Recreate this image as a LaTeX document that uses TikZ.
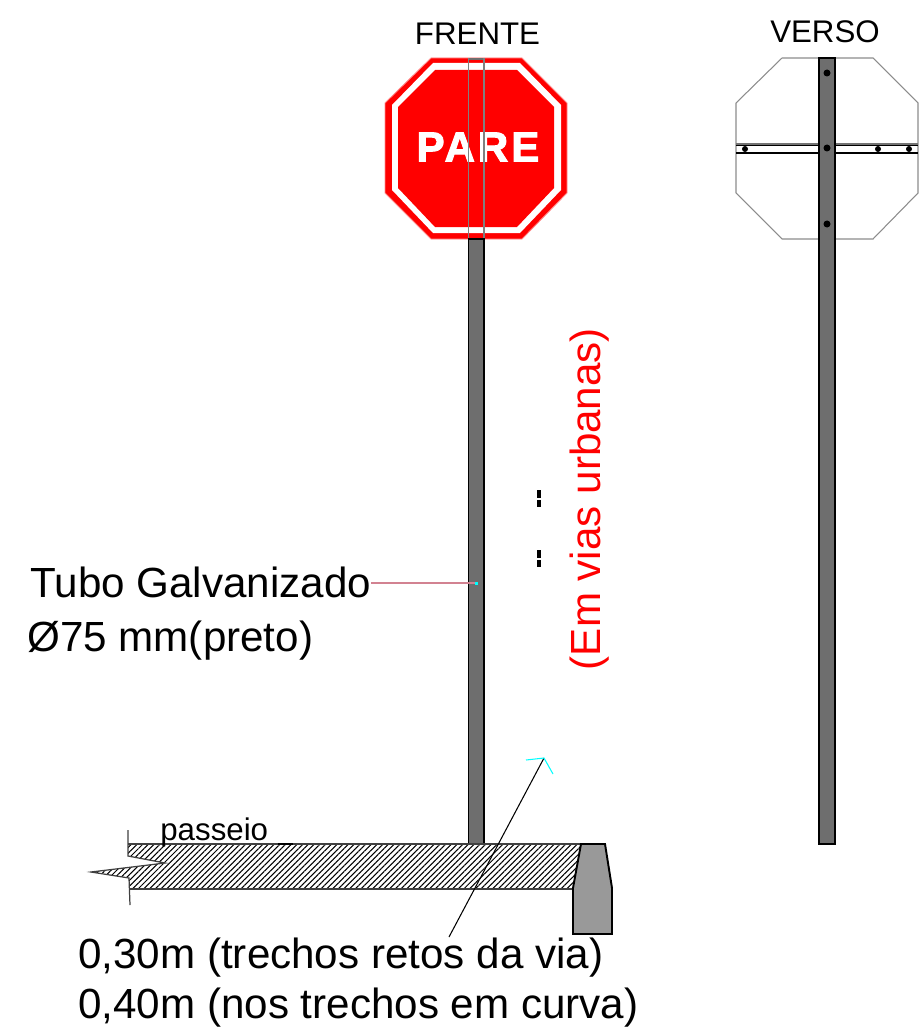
\documentclass[tikz,border=0pt]{standalone}
\usepackage{fontspec}
\setmainfont{Liberation Sans}
\newfontfamily\parefont[FakeBold=2.2, LetterSpace=7]{Liberation Sans Bold}
\usetikzlibrary{patterns.meta}
\definecolor{ciano}{RGB}{0,255,255}
\definecolor{rosa}{RGB}{210,130,145}
\begin{document}
\begin{tikzpicture}[
            x=0.02cm, y=-0.02cm,
            rotulo/.style={font=\fontsize{24}{28}\selectfont, inner sep=0pt, anchor=base west},
            titulo/.style={font=\fontsize{17.8}{20}\selectfont, inner sep=0pt, anchor=base},
            poste/.style={draw=black, line width=0.8pt, fill=black!57},
            placa/.style={draw=black!45, line width=0.6pt},
            furo/.style={fill=black},
            guia/.style={draw=black, line width=0.6pt},
            traco/.style={draw=black, line width=2pt},
        ]
        \useasboundingbox (0, 0) rectangle (920, 1027);

        \node[titulo] (frente) at (477.5, 45) {FRENTE};
        \node[titulo] (verso) at (825, 43) {VERSO};

        \fill[red, draw=red!45, line width=0.5pt] (431, 58) -- (522, 58) -- (567, 103) -- (567, 193) -- (522, 239) -- (431, 239) -- (385, 193) -- (385, 103) -- cycle;
        \fill[white] (433, 63) -- (520, 63) -- (561, 105) -- (561, 190) -- (520, 233) -- (433, 233) -- (392, 190) -- (392, 105) -- cycle;
        \fill[red] (435, 70) -- (517, 70) -- (554, 107) -- (554, 188) -- (517, 227) -- (435, 227) -- (398, 188) -- (398, 107) -- cycle;
        \node[inner sep=0pt, anchor=base, text=white, font=\fontsize{24}{28}\parefont] (pare) at (478, 161.5) {PARE};

        \fill[black!57] (468.5, 58) rectangle (484, 60);
        \draw[black!50, line width=0.6pt] (468.5, 58) -- (468.5, 239);
        \draw[black!50, line width=0.6pt] (484, 58) -- (484, 239);
        \draw[poste] (468.5, 239) rectangle (484, 844);

        \draw[placa, fill=white] (782, 58) -- (873, 58) -- (918, 103) -- (918, 193) -- (873, 239) -- (782, 239) -- (736, 193) -- (736, 103) -- cycle;
        \draw[black!55, line width=1pt] (736, 144) -- (918, 144);
        \draw[black, line width=0.6pt] (736, 145.5) -- (918, 145.5);
        \draw[black, line width=0.6pt] (736, 153) -- (918, 153);
        \draw[poste] (819, 58) rectangle (835, 844);
        \foreach \py in {73, 148, 224}
            \fill[furo] (827, \py) circle (3.5);
        \foreach \px in {745, 878, 909}
            \fill[furo] (\px, 149) circle (3);

        \draw[traco] (539, 490) -- (539, 498);
        \draw[traco] (539, 500) -- (539, 507);
        \draw[traco] (539, 550) -- (539, 558);
        \draw[traco] (539, 560) -- (539, 567);

        \node[rotulo, text=red, rotate=90, anchor=base] (vias) at (600, 499) {(Em vias urbanas)};
        \node[rotulo] (tubo) at (30, 597) {Tubo Galvanizado};
        \node[rotulo] (diametro) at (27, 651) {Ø75 mm(preto)};
        \coordinate (pontotubo) at (476, 583);
        \draw[rosa, line width=0.6pt] (tubo.east |- pontotubo) -- (pontotubo);
        \fill[ciano] (474.5, 581.5) rectangle (477.5, 584.5);

        \path[pattern={Lines[angle=45, distance=2.3pt, line width=0.6pt]}, pattern color=black] (128, 844) -- (581, 844) -- (573, 889) -- (129, 889) -- (129, 878) -- (91, 872) -- (165, 863) -- (128, 856) -- cycle;
        \draw[black!75, line width=0.7pt] (128, 830) -- (128, 856) -- (165, 863) -- (91, 872) -- (129, 878) -- (130, 905);
        \draw[black!75, line width=0.7pt] (128, 844) -- (581, 844);
        \draw[black!75, line width=0.7pt] (129, 889) -- (573, 889);
        \draw[black, line width=0.7pt] (278, 844) -- (293, 844);
        \draw[poste, fill=black!40, line width=1.1pt] (581, 844) -- (605, 844) -- (612, 888) -- (612, 934) -- (573, 934) -- (573, 888) -- cycle;
        \node[titulo, anchor=base west] (passeio) at (160, 840) {passeio};

        \node[rotulo] (retos) at (78, 968) {0,30m (trechos retos da via)};
        \node[rotulo] (curva) at (78, 1018) {0,40m (nos trechos em curva)};

        \coordinate (guiaini) at (449, 937);
        \coordinate (guiafim) at (544, 758);
        \draw[guia] (guiaini) -- (guiafim);
        \draw[ciano, line width=0.6pt] (526, 760) -- (guiafim) -- (553, 774);
    \end{tikzpicture}
\end{document}
